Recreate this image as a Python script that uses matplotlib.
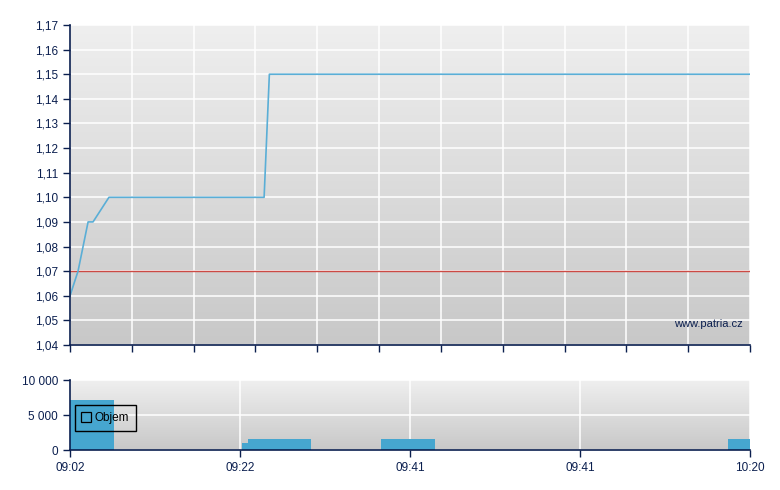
import numpy as np
import matplotlib
matplotlib.use("Agg")
import matplotlib.pyplot as plt
from matplotlib.colors import LinearSegmentedColormap
from matplotlib.lines import Line2D

plt.rcParams['font.family'] = ['Liberation Sans', 'DejaVu Sans']

# ---- data (x is trade index position, 0..44) ----
price_x = [0, 0.52, 1.17, 1.49, 2.52, 12.56, 12.9, 44]
price_y = [1.06, 1.07, 1.09, 1.09, 1.10, 1.10, 1.15, 1.15]
ref_price = 1.07

vol_start = [0, 11.13, 11.52, 20.13, 42.6]
vol_width = [2.85, 0.39, 4.08, 3.47, 1.4]
vol_values = [7200, 1000, 1600, 1600, 1600]

price_ticks = [1.04, 1.05, 1.06, 1.07, 1.08, 1.09, 1.10, 1.11, 1.12, 1.13, 1.14, 1.15, 1.16, 1.17]
vol_ticks = [0, 5000, 10000]
vol_tick_labels = ["0", "5 000", "10 000"]
time_tick_pos = [0, 11, 22, 33, 44]
time_tick_labels = ["09:02", "09:22", "09:41", "09:41", "10:20"]
XMAX = 44

navy = '#0b1f4f'
line_c = '#5aaed6'
bar_c = '#46a6cf'
red_c = '#cc4a44'

fig = plt.figure(figsize=(7.8, 4.9), dpi=100)
ax = fig.add_axes([70/780, 1-345/490, 680/780, 320/490])
ax2 = fig.add_axes([70/780, 1-450/490, 680/780, 70/490])

cmap = LinearSegmentedColormap.from_list('bg', ['#c8c8c8', '#efefef'])
for a in (ax, ax2):
    a.imshow(np.linspace(0, 1, 256)[:, None], extent=[0, 1, 0, 1], transform=a.transAxes,
             aspect='auto', cmap=cmap, origin='lower', zorder=0)
    for s in ('top', 'right'):
        a.spines[s].set_visible(False)
    for s in ('left', 'bottom'):
        a.spines[s].set_color(navy)
        a.spines[s].set_linewidth(1.2)
        a.spines[s].set_zorder(6)
    a.tick_params(colors=navy, labelcolor=navy, length=5, width=1, labelsize=8.5, direction='out')
    a.set_axisbelow(True)

# main price chart
ax.grid(True, color='white', lw=1.1)
ax.plot(price_x, price_y, color=line_c, lw=1.2, zorder=4)
ax.axhline(ref_price, color=red_c, lw=1.0, zorder=3)
ax.set_xlim(0, XMAX)
ax.set_ylim(1.04, 1.17)
ax.set_yticks(price_ticks)
ax.set_yticklabels([f"{v:.2f}".replace('.', ',') for v in price_ticks])
ax.set_xticks(np.arange(0, XMAX + 0.1, 4))
ax.set_xticklabels([])
ax.text(0.99, 0.065, 'www.patria.cz', transform=ax.transAxes, ha='right', va='center',
        color=navy, fontsize=8, zorder=5)

# volume chart
ax2.grid(True, color='white', lw=1.1)
ax2.bar(vol_start, vol_values, width=vol_width, align='edge', color=bar_c, lw=0, zorder=3)
ax2.set_xlim(0, XMAX)
ax2.set_ylim(0, 10000)
ax2.set_yticks(vol_ticks)
ax2.set_yticklabels(vol_tick_labels)
ax2.set_xticks(time_tick_pos)
ax2.set_xticklabels(time_tick_labels)

handle = Line2D([], [], marker='s', linestyle='none', markerfacecolor='none',
                markeredgecolor='black', markersize=7, markeredgewidth=0.9)
leg = ax2.legend([handle], ['Objem'], loc='upper left', bbox_to_anchor=(0.0074, 0.643),
                 frameon=True, fancybox=False, framealpha=1, edgecolor='black',
                 fontsize=8.5, handlelength=0.7, handletextpad=0.35, borderpad=0.6,
                 borderaxespad=0)
leg.get_frame().set_facecolor('none')
leg.get_frame().set_linewidth(1)
leg.set_zorder(5)

fig.savefig('out.png', dpi=100)
